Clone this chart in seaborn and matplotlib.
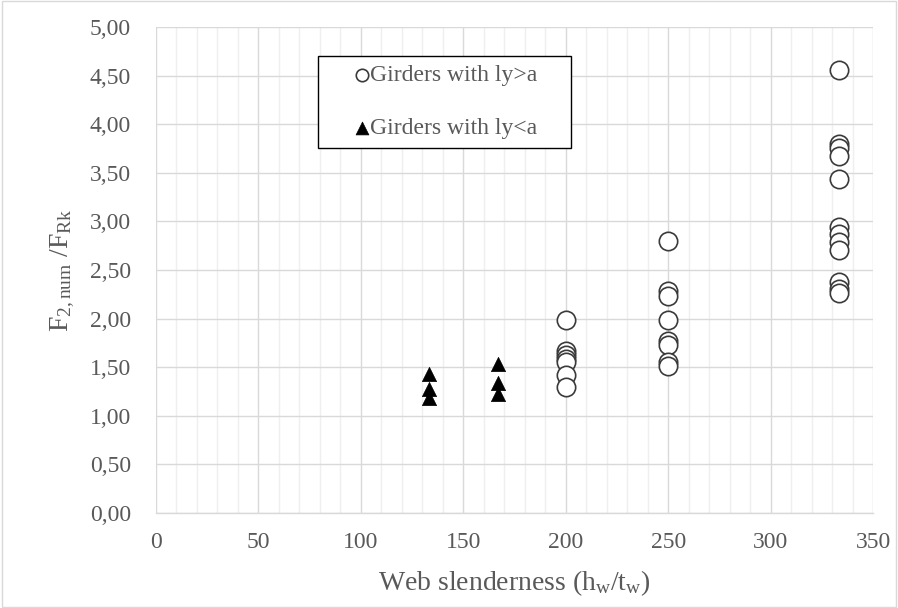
import matplotlib
matplotlib.use("Agg")
import matplotlib.pyplot as plt
from matplotlib.patches import Rectangle
from matplotlib.ticker import MultipleLocator, FuncFormatter
import seaborn as sns
import pandas as pd

# Web slenderness groups and normalised resistance F2,num / FRk
slender_long = [200] * 7 + [250] * 8 + [333.3] * 12
ratio_long = [1.99, 1.67, 1.63, 1.58, 1.55, 1.42, 1.30,
              2.80, 2.28, 2.23, 1.99, 1.77, 1.73, 1.55, 1.51,
              4.56, 3.80, 3.75, 3.67, 3.44, 2.94, 2.87, 2.79, 2.71, 2.38, 2.30, 2.26]

slender_short = [133.3] * 3 + [166.7] * 3
ratio_short = [1.43, 1.28, 1.18, 1.53, 1.34, 1.22]

label_long = "Girders with ly>a"
label_short = "Girders with ly<a"

df_long = pd.DataFrame({"x": slender_long, "y": ratio_long})
df_short = pd.DataFrame({"x": slender_short, "y": ratio_short})

sns.set_theme(style="white")
plt.rcParams["font.family"] = ["Liberation Serif", "DejaVu Serif"]
plt.rcParams["mathtext.fontset"] = "custom"
plt.rcParams["mathtext.rm"] = "Liberation Serif"
plt.rcParams["mathtext.it"] = "Liberation Serif"

text_color = "#595959"
grid_major = "#d9d9d9"
grid_minor = "#efefef"

fig = plt.figure(figsize=(8.98, 6.08), dpi=100)
ax = fig.add_axes([0.1737, 0.1563, 0.7985, 0.7993])

sns.scatterplot(data=df_long, x="x", y="y", ax=ax, marker="o", s=175,
                facecolor="white", edgecolor="#3a3a3a", linewidth=1.2,
                label=label_long, zorder=3)
sns.scatterplot(data=df_short, x="x", y="y", ax=ax, marker="^", s=105,
                color="black", edgecolor="black", linewidth=0.5,
                label=label_short, zorder=3)

ax.set_xlim(0, 350)
ax.set_ylim(0, 5)
ax.xaxis.set_major_locator(MultipleLocator(50))
ax.xaxis.set_minor_locator(MultipleLocator(10))
ax.yaxis.set_major_locator(MultipleLocator(0.5))
ax.yaxis.set_major_formatter(FuncFormatter(lambda v, p: f"{v:.2f}".replace(".", ",")))

ax.grid(which="major", axis="both", color=grid_major, linewidth=1.0, zorder=0)
ax.grid(which="minor", axis="x", color=grid_minor, linewidth=1.0, zorder=0)
ax.set_axisbelow(True)

for side in ["top", "right", "left"]:
    ax.spines[side].set_visible(False)
ax.spines["bottom"].set_color(grid_major)
ax.spines["bottom"].set_linewidth(1.0)

ax.tick_params(axis="both", which="both", length=0, labelsize=17, colors=text_color)
ax.tick_params(axis="x", pad=14)
ax.tick_params(axis="y", pad=18)

ax.set_xlabel(r"Web slenderness (h$_{\mathregular{w}}$/t$_{\mathregular{w}}$)",
              fontsize=20, color=text_color, labelpad=11)
ax.set_ylabel(r"F$_{\mathregular{2,num}}$ /F$_{\mathregular{Rk}}$",
              fontsize=20, color=text_color, labelpad=9)

# legend without its own frame; a separate box is drawn around it
leg = ax.legend(loc="upper left", bbox_to_anchor=(0.277, 0.922), frameon=False,
                fontsize=17, handletextpad=0.05, handlelength=0.6,
                borderpad=0, labelspacing=1.33, borderaxespad=0)
for t in leg.get_texts():
    t.set_color(text_color)
sizes = [80, 85]
for h, s in zip(leg.legend_handles, sizes):
    h.set_sizes([s])
ax.add_patch(Rectangle((0.226, 0.751), 0.353, 0.189, transform=ax.transAxes,
                       fill=True, facecolor="white", edgecolor="black",
                       linewidth=1.0, zorder=4))
leg.set_zorder(5)

fig.patches.append(Rectangle((0.002, 0.002), 0.996, 0.996, transform=fig.transFigure,
                             fill=False, edgecolor=grid_major, linewidth=1.0))

fig.savefig("out.png", dpi=100)
